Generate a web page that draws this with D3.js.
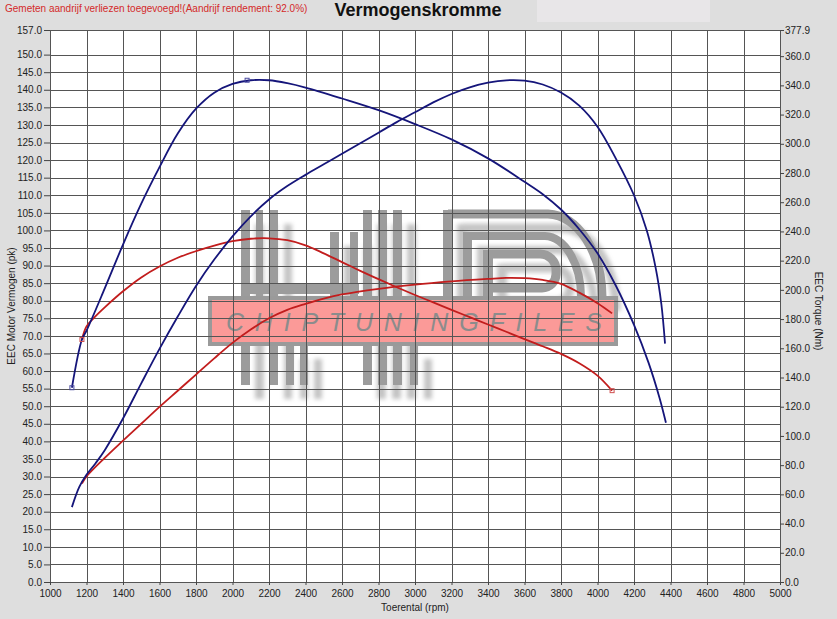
<!DOCTYPE html>
<html><head><meta charset="utf-8">
<script src="https://cdn.jsdelivr.net/npm/d3@7/dist/d3.min.js"></script>
<style>
html,body{margin:0;padding:0;background:#dedede;}
svg{display:block;font-family:"Liberation Sans",Arial,sans-serif;}
</style></head><body>
<svg id="c" width="837" height="619"></svg>
<script>
// ---- data ----
const rpmBlueTorque = [1120,1175,1200,1300,1400,1500,1600,1700,1800,1900,2000,2100,2200,2300,2400,2600,2800,3000,3200,3400,3600,3700,3800,3900,4000,4100,4200,4280,4340,4375];
const blueTorqueNm  = [133,166,172,201,231,259,284,307,324,335,341,343.5,343.5,341.5,338.5,331,323,313.5,303,290,274,265.5,255,241.5,225,203,176,150,126,109];

const rpmBluePower = [1120,1160,1200,1250,1300,1400,1500,1600,1700,1800,1900,2000,2100,2200,2300,2400,2500,2600,2700,2800,2900,3000,3100,3200,3300,3400,3500,3600,3700,3800,3900,4000,4100,4200,4270,4320,4350,4370];
const bluePowerPk  = [21.3,27.0,30.5,33.8,37.5,46.5,56.5,66.3,75.5,84.2,91.7,98.3,104.0,108.8,112.6,115.8,118.8,121.8,124.8,127.8,130.8,133.6,136.4,138.8,140.7,142.0,142.7,142.6,141.5,139.2,135.5,129.5,120.5,110.0,100.0,89.0,79.0,67.8];

const rpmRedTorque = [1175,1200,1250,1300,1400,1500,1600,1700,1800,1900,2000,2100,2200,2300,2400,2500,2600,2700,2800,2900,3000,3100,3200,3300,3400,3500,3600,3700,3800,3900,4000,4080];
const redTorqueNm  = [166,175,182,188,199,208.5,216,222,226.5,230.3,233.3,235,235.3,234,230.5,225,219,213,207.3,201.8,196.5,191.4,186.3,181.3,176.3,171.3,166.3,161.4,156.2,149.8,141.3,131];

const rpmRedPower = [1175,1200,1300,1400,1500,1600,1700,1800,1900,2000,2100,2200,2300,2400,2500,2600,2800,3000,3200,3400,3500,3600,3700,3800,3900,4000,4080];
const redPowerPk  = [28.0,30.0,35.3,40.2,45.0,49.8,54.4,59.0,63.6,68.0,71.8,75.0,77.4,79.1,80.6,81.8,83.4,84.6,85.5,86.2,86.5,86.4,85.9,84.8,82.3,79.3,76.4];

const xTicks = d3.range(1000, 5001, 200);
const leftTicks = d3.range(0, 151, 5).concat([157]);
const rightTicks = d3.range(0, 361, 20).concat([377.9]);
const title = "Vermogenskromme";
const subtitle = "Gemeten aandrijf verliezen toegevoegd!(Aandrijf rendement: 92.0%)";

// ---- layout ----
const svg = d3.select("#c");
const X0 = 50, X1 = 780, YT = 30, YB = 582;
const x = d3.scaleLinear([1000, 5000], [X0, X1]);
const yPk = d3.scaleLinear([0, 157], [YB, YT]);
const yNm = d3.scaleLinear([0, 377.9], [YB, YT]);

svg.append("rect").attr("width", 837).attr("height", 619).attr("fill", "#dedede");
svg.append("rect").attr("x", 537).attr("y", 0).attr("width", 173).attr("height", 22).attr("fill", "#e8e6e8");
svg.append("rect").attr("x", X0).attr("y", YT).attr("width", X1 - X0).attr("height", YB - YT).attr("fill", "#fff");

// ---- watermark ----
const defs = svg.append("defs");
defs.append("filter").attr("id", "blur").attr("x", "-20%").attr("y", "-20%").attr("width", "140%").attr("height", "140%")
  .append("feGaussianBlur").attr("stdDeviation", 2.2);
defs.append("clipPath").attr("id", "plotclip").append("rect").attr("x", X0).attr("y", YT).attr("width", X1 - X0).attr("height", YB - YT);

function logo(g, col) {
  const bars = [
    [241,210,9,175],[256,210,7,87],[270,210,8,175],
    [241,284,118,10],[330,232,9,65],[350,232,8,65],
    [363,210,9,175],[378,210,9,175],[393,210,9,175],
    [286,345,8,40],[300,345,8,40],[410,345,8,40],
    [443,210,10,87],[463,232,9,65],[483,250,10,47]
  ];
  bars.forEach(b => g.append("rect").attr("x", b[0]).attr("y", b[1]).attr("width", b[2]).attr("height", b[3]).attr("fill", col));
  g.append("path").attr("d", "M448,214 H548 A56,83 0 0 1 602,297").attr("fill", "none").attr("stroke", col).attr("stroke-width", 9);
  g.append("path").attr("d", "M467,236 H545 A37,61 0 0 1 581,297").attr("fill", "none").attr("stroke", col).attr("stroke-width", 8);
  g.append("path").attr("d", "M488,254 H540 A16,16 0 0 1 556,270 V274 A14,14 0 0 1 542,288 H488").attr("fill", "none").attr("stroke", col).attr("stroke-width", 9);
}
const wm = svg.append("g").attr("clip-path", "url(#plotclip)");
const sh = wm.append("g").attr("transform", "translate(14,14)").attr("filter", "url(#blur)").attr("opacity", 0.75);
logo(sh, "#b0b0b0");
logo(wm.append("g"), "#9c9c9c");
wm.append("rect").attr("x", 210).attr("y", 298).attr("width", 406).attr("height", 46)
  .attr("fill", "#fb9a98").attr("stroke", "#9a9a9a").attr("stroke-width", 4);
wm.append("text").attr("x", 226).attr("y", 331).attr("textLength", 376).attr("lengthAdjust", "spacing")
  .attr("font-size", 25).attr("font-style", "italic").attr("fill", "#8c8c8c").text("CHIPTUNINGFILES");

// ---- grid ----
const grid = svg.append("g").attr("stroke", "#555").attr("stroke-width", 1).attr("shape-rendering", "crispEdges");
grid.selectAll(".v").data(xTicks).join("line")
  .attr("x1", d => Math.round(x(d)) + 0.5).attr("x2", d => Math.round(x(d)) + 0.5).attr("y1", YT).attr("y2", YB);
grid.selectAll(".h").data(leftTicks).join("line")
  .attr("y1", d => Math.round(yPk(d)) + 0.5).attr("y2", d => Math.round(yPk(d)) + 0.5).attr("x1", X0).attr("x2", X1);

// ---- curves ----
const lineOf = (xs, ys, sy) => d3.line().x((d, i) => x(xs[i])).y((d, i) => sy(ys[i])).curve(d3.curveCatmullRom.alpha(0.5))(ys);
const curves = svg.append("g").attr("fill", "none").attr("stroke-width", 1.8).attr("stroke-linejoin", "round");
curves.append("path").attr("d", lineOf(rpmRedPower, redPowerPk, yPk)).attr("stroke", "#c21d1d");
curves.append("path").attr("d", lineOf(rpmRedTorque, redTorqueNm, yNm)).attr("stroke", "#c21d1d");
curves.append("path").attr("d", lineOf(rpmBluePower, bluePowerPk, yPk)).attr("stroke", "#15157a");
curves.append("path").attr("d", lineOf(rpmBlueTorque, blueTorqueNm, yNm)).attr("stroke", "#15157a");

// markers
const marks = [
  [rpmBlueTorque[0], yNm(blueTorqueNm[0]), "#4a4aa0"],
  [2080, yNm(343.5), "#4a4aa0"],
  [rpmRedTorque[0], yNm(redTorqueNm[0]), "#d05050"],
  [rpmRedTorque[rpmRedTorque.length - 1], yNm(redTorqueNm[redTorqueNm.length - 1]), "#d05050"]
];
svg.append("g").selectAll("rect").data(marks).join("rect")
  .attr("x", d => x(d[0]) - 2).attr("y", d => d[1] - 2).attr("width", 4).attr("height", 4)
  .attr("fill", "none").attr("stroke", d => d[2]).attr("stroke-width", 1);

// ---- axes ----
const fmt = d3.format(".1f");
const axL = svg.append("g").attr("transform", `translate(${X0},0)`)
  .call(d3.axisLeft(yPk).tickValues(leftTicks).tickFormat(fmt).tickSize(6).tickPadding(2));
const axR = svg.append("g").attr("transform", `translate(${X1},0)`)
  .call(d3.axisRight(yNm).tickValues(rightTicks).tickFormat(fmt).tickSize(4).tickPadding(1));
const axB = svg.append("g").attr("transform", `translate(0,${YB})`)
  .call(d3.axisBottom(x).tickValues(xTicks).tickFormat(d3.format("d")).tickSize(3).tickPadding(5));
[axL, axR, axB].forEach(a => {
  a.select(".domain").remove();
  a.selectAll("line").attr("stroke", "#444");
  a.selectAll("text").attr("font-size", 10).attr("fill", "#222").attr("font-family", "Liberation Sans, Arial, sans-serif");
});

// ---- titles ----
svg.append("text").attr("x", 418).attr("y", 16).attr("text-anchor", "middle").attr("font-size", 18)
  .attr("font-weight", "bold").attr("fill", "#111").text(title);
svg.append("text").attr("x", 5).attr("y", 12).attr("font-size", 10).attr("fill", "#d42a2a").text(subtitle);
svg.append("text").attr("x", 415).attr("y", 611).attr("text-anchor", "middle").attr("font-size", 10).attr("fill", "#222").text("Toerental (rpm)");
svg.append("text").attr("transform", "translate(15,306) rotate(-90)").attr("text-anchor", "middle").attr("font-size", 10)
  .attr("fill", "#222").text("EEC Motor Vermogen (pk)");
svg.append("text").attr("transform", "translate(815,311) rotate(90)").attr("text-anchor", "middle").attr("font-size", 10)
  .attr("fill", "#222").text("EEC Torque (Nm)");
</script>
</body></html>
